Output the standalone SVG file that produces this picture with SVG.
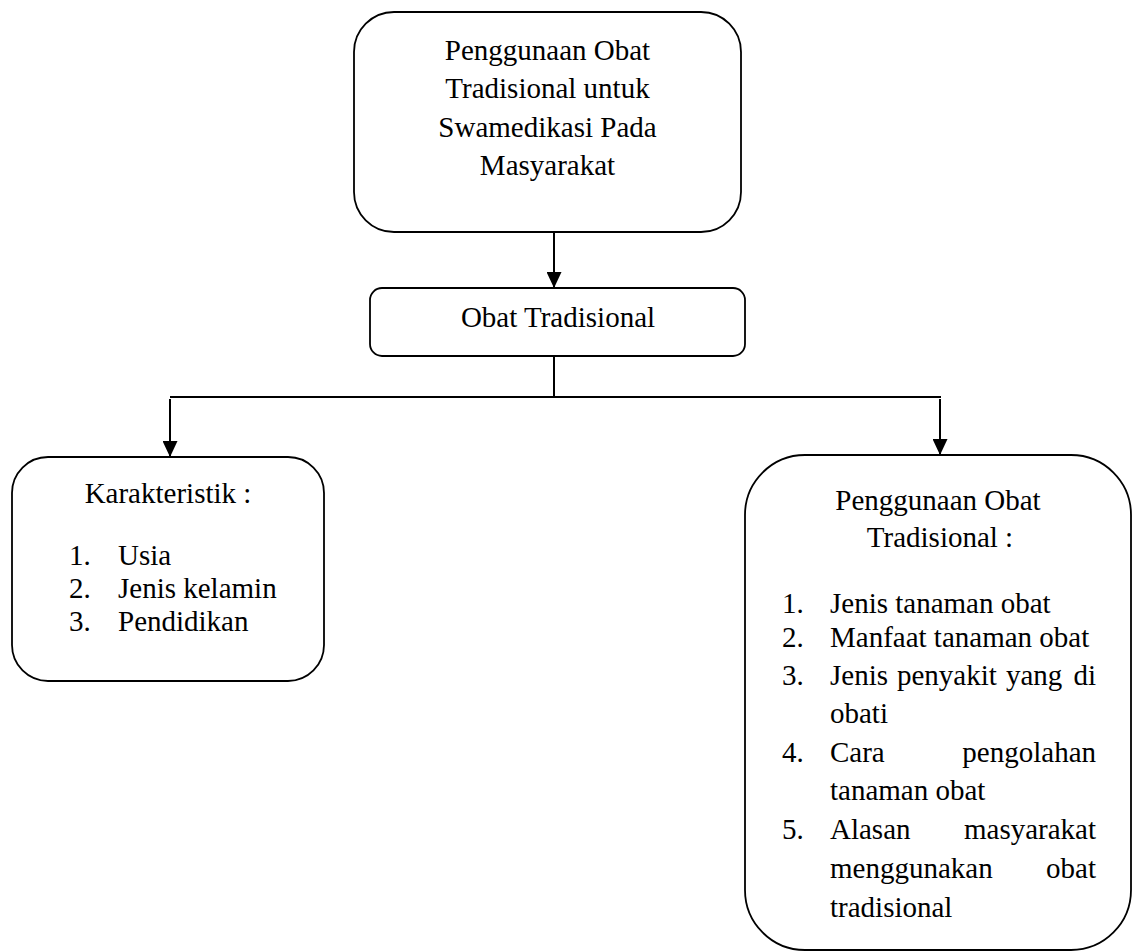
<svg xmlns="http://www.w3.org/2000/svg" width="1133" height="952" viewBox="0 0 1133 952">
<style>
.box{fill:#fff;stroke:#000;stroke-width:1.8}
.t{font-size:29px;fill:#000}
.c{text-anchor:middle}
.e{text-anchor:end}
.ln{stroke:#000;stroke-width:2;fill:none}
</style>
<defs>
<marker id="arr" markerUnits="userSpaceOnUse" markerWidth="16" markerHeight="15" refX="16" refY="7.5" orient="auto">
<path d="M0,0 L16,7.5 L0,15 z" fill="#000"/>
</marker>
</defs>
<rect width="1133" height="952" fill="#fff"/>
<g id="connectors">
<line class="ln" x1="554" y1="232" x2="554" y2="288" marker-end="url(#arr)"/>
<line class="ln" x1="554" y1="356" x2="554" y2="397"/>
<line class="ln" x1="170" y1="397" x2="941" y2="397"/>
<line class="ln" x1="170" y1="399" x2="170" y2="457" marker-end="url(#arr)"/>
<line class="ln" x1="940" y1="399" x2="940" y2="455" marker-end="url(#arr)"/>
</g>
<g font-family="Liberation Serif, Times New Roman, Times, serif">
<g id="node-top">
<rect class="box" x="354" y="12" width="387" height="220" rx="40" ry="40"/>
<text class="t c" x="547.5" y="60">Penggunaan Obat</text>
<text class="t c" x="547.5" y="98">Tradisional untuk</text>
<text class="t c" x="547.5" y="136.5">Swamedikasi Pada</text>
<text class="t c" x="547.5" y="175">Masyarakat</text>
</g>
<g id="node-obat">
<rect class="box" x="370" y="288" width="375" height="68" rx="12" ry="12"/>
<text class="t c" x="558" y="327">Obat Tradisional</text>
</g>
<g id="node-karakteristik">
<rect class="box" x="12" y="457" width="312" height="224" rx="36" ry="36"/>
<text class="t c" x="168" y="503">Karakteristik :</text>
<text class="t" x="69" y="565">1.</text><text class="t" x="118" y="565">Usia</text>
<text class="t" x="69" y="598">2.</text><text class="t" x="118" y="598">Jenis kelamin</text>
<text class="t" x="69" y="631">3.</text><text class="t" x="118" y="631">Pendidikan</text>
</g>
<g id="node-penggunaan">
<rect class="box" x="745" y="455" width="386" height="495" rx="60" ry="60"/>
<text class="t c" x="938" y="510">Penggunaan Obat</text>
<text class="t c" x="940" y="547">Tradisional :</text>
<text class="t" x="782" y="613">1.</text><text class="t" x="830" y="613">Jenis tanaman obat</text>
<text class="t" x="782" y="647">2.</text><text class="t" x="830" y="647">Manfaat tanaman obat</text>
<text class="t" x="782" y="685">3.</text>
<text class="t" y="685"><tspan x="830">Jenis</tspan><tspan x="897">penyakit</tspan><tspan x="1006">yang</tspan></text>
<text class="t e" x="1096" y="685">di</text>
<text class="t" x="830" y="723">obati</text>
<text class="t" x="782" y="762">4.</text><text class="t" x="830" y="762">Cara</text><text class="t e" x="1096" y="762">pengolahan</text>
<text class="t" x="830" y="800">tanaman obat</text>
<text class="t" x="782" y="839">5.</text><text class="t" x="830" y="839">Alasan</text><text class="t e" x="1096" y="839">masyarakat</text>
<text class="t" x="830" y="878">menggunakan</text><text class="t e" x="1096" y="878">obat</text>
<text class="t" x="830" y="917">tradisional</text>
</g>
</g>
</svg>
